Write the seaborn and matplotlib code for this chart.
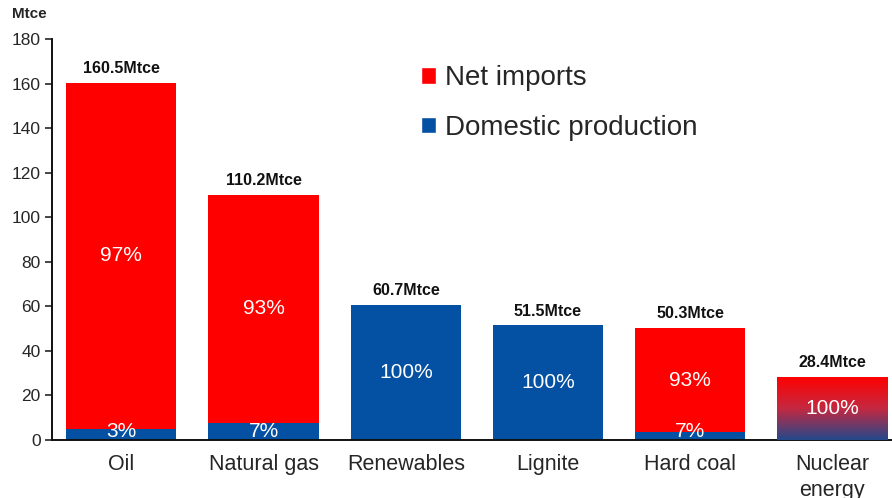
import numpy as np
import matplotlib
matplotlib.use("Agg")
import matplotlib.pyplot as plt
from matplotlib.patches import Patch
from matplotlib.colors import LinearSegmentedColormap
import seaborn as sns

# Primary energy sources, totals in Mtce
categories = ["Oil", "Natural gas", "Renewables", "Lignite", "Hard coal", "Nuclear\nenergy"]
totals = [160.5, 110.2, 60.7, 51.5, 50.3, 28.4]
domestic_share = [3, 7, 100, 100, 7, 100]
import_share = [97, 93, 0, 0, 93, 0]
y_ticks = [0, 20, 40, 60, 80, 100, 120, 140, 160, 180]

RED = "#FF0000"
BLUE = "#0450A2"

domestic = [t * s / 100 for t, s in zip(totals, domestic_share)]

sns.set_style("white")
plt.rcParams["font.family"] = ["Liberation Sans", "DejaVu Sans"]

fig = plt.figure(figsize=(8.92, 4.98), dpi=100)
ax = fig.add_axes([0.058, 0.1165, 0.942, 0.805])

width = 0.775
sns.barplot(x=categories, y=totals, color=RED, width=width, ax=ax,
            saturation=1, linewidth=0)
sns.barplot(x=categories, y=domestic, color=BLUE, width=width, ax=ax,
            saturation=1, linewidth=0)

# Nuclear bar: red-to-blue vertical gradient clipped to the bar
nuc = len(categories) - 1
nuc_patch = [p for p in ax.patches if abs(p.get_x() + p.get_width() / 2 - nuc) < 1e-6][-1]
grad = np.linspace(0, 1, 256).reshape(-1, 1)
cmap = LinearSegmentedColormap.from_list("nuc", ["#23498C", "#C5283F", RED])
img = ax.imshow(grad, cmap=cmap, aspect="auto", origin="lower",
                extent=[nuc - width / 2, nuc + width / 2, 0, totals[nuc]], zorder=3)
img.set_clip_path(nuc_patch)

# Value and share labels
for i, (t, d, ds, im) in enumerate(zip(totals, domestic, domestic_share, import_share)):
    ax.text(i, t + 3, f"{t}Mtce", ha="center", va="bottom", fontsize=11.5,
            fontweight="bold", color="#111111", zorder=5)
    if im > 0:
        ax.text(i, (d + t) / 2, f"{im}%", ha="center", va="center",
                fontsize=15, color="white", zorder=5)
        ax.text(i, 4, f"{ds}%", ha="center", va="center",
                fontsize=15, color="white", zorder=5)
    else:
        ax.text(i, t / 2, f"{ds}%", ha="center", va="center",
                fontsize=15, color="white", zorder=5)

ax.set_xlim(-0.49, 5.42)
ax.set_ylim(0, 180)
ax.set_yticks(y_ticks)
ax.tick_params(axis="y", direction="out", length=5, width=1.2, labelsize=12.5,
               left=True, pad=3)
ax.tick_params(axis="x", length=0, labelsize=15.5, pad=10)
for lab in ax.get_xticklabels():
    lab.set_va("top")
    lab.set_linespacing(1.35)
sns.despine(ax=ax, top=True, right=True)
for s in ("left", "bottom"):
    ax.spines[s].set_color("#111111")
    ax.spines[s].set_linewidth(1.4)
ax.set_xlabel("")
ax.set_ylabel("")

fig.text(29 / 892, 1 - 14 / 498, "Mtce", ha="center", va="center",
         fontsize=11, fontweight="bold")

handles = [Patch(facecolor=RED, label="Net imports"),
           Patch(facecolor=BLUE, label="Domestic production")]
fig.legend(handles=handles, loc="upper left", bbox_to_anchor=(396 / 892, 1 - 40 / 498),
           frameon=False, fontsize=20, handlelength=0.55, handleheight=0.55,
           handletextpad=0.3, labelspacing=0.86)

fig.savefig("out.png", dpi=100)
